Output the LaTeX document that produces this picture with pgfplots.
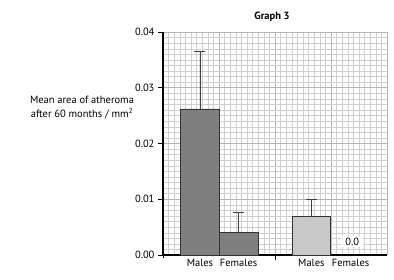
\documentclass[border=0pt]{standalone}
\usepackage{pgfplots}
\pgfplotsset{compat=1.18}
\usepackage{fontspec}
\setmainfont{PT Sans}
\definecolor{darkbar}{HTML}{7F7F7F}
\definecolor{lightbar}{HTML}{C8C8C8}
\definecolor{majgrid}{HTML}{B4B4B4}
\definecolor{mingrid}{HTML}{CFCFCF}
\begin{document}
\begin{tikzpicture}
\useasboundingbox (0pt,0pt) rectangle (394pt,279pt);
\begin{axis}[
  at={(163pt,24pt)}, anchor=south west,
  scale only axis, width=224pt, height=223pt,
  xmin=0, xmax=4, ymin=0, ymax=0.04,
  axis x line*=bottom, axis y line*=left,
  axis line style={black, line width=1.1pt, -},
  xtick={0,1,2,3,4}, xticklabels={},
  minor x tick num=9, minor y tick num=9,
  ytick={0,0.01,0.02,0.03,0.04},
  scaled y ticks=false,
  yticklabel style={/pgf/number format/fixed, /pgf/number format/fixed zerofill, /pgf/number format/precision=2, /pgf/number format/assume math mode=true, font=\fontsize{10.5}{12}\selectfont},
  tick align=outside,
  x tick style={draw=none},
  minor tick length=0pt,
  y tick style={black, line width=0.8pt},
  major tick length=5pt,
  grid=both,
  major grid style={majgrid, line width=0.9pt},
  minor grid style={mingrid, line width=0.4pt},
  extra x ticks={0.66,1.35,2.65,3.35},
  extra x tick labels={Males, Females, Males, Females},
  extra x tick style={grid=none, major tick length=0pt, tick style={draw=none}, xticklabel style={font=\fontsize{10.5}{12}\selectfont, yshift=-1pt}},
  clip=false,
]
\addplot[ybar, bar width=0.69, bar shift=0pt, fill=darkbar, draw=black!80, line width=0.8pt,
  error bars/.cd, y dir=plus, y explicit,
  error bar style={black!75, line width=0.7pt},
  error mark options={black!75, line width=0.7pt, mark size=5.5pt, rotate=90}]
  coordinates {(0.66,0.0262) +- (0,0.0104) (1.35,0.0041) +- (0,0.0036)};
\addplot[ybar, bar width=0.69, bar shift=0pt, fill=lightbar, draw=black!80, line width=0.8pt,
  error bars/.cd, y dir=plus, y explicit,
  error bar style={black!75, line width=0.7pt},
  error mark options={black!75, line width=0.7pt, mark size=5.5pt, rotate=90}]
  coordinates {(2.65,0.0069) +- (0,0.0031)};
\node[fill=white, inner xsep=4pt, inner ysep=2pt, font=\fontsize{10.5}{12}\selectfont] at (axis cs:3.38,0.0024) {0.0};
\draw[black, line width=0.9pt] (axis cs:2,0) -- ++(0,-5pt);
\draw[black, line width=0.9pt] (axis cs:0,0) -- ++(0,-3pt);
\end{axis}
\node[font=\fontsize{10.5}{12}\selectfont\bfseries] at (272pt,262pt) {Graph 3};
\node[align=center, font=\fontsize{10.5}{14}\selectfont] at (82pt,171pt) {Mean area of atheroma\\after 60 months / mm\textsuperscript{2}};
\end{tikzpicture}
\end{document}
